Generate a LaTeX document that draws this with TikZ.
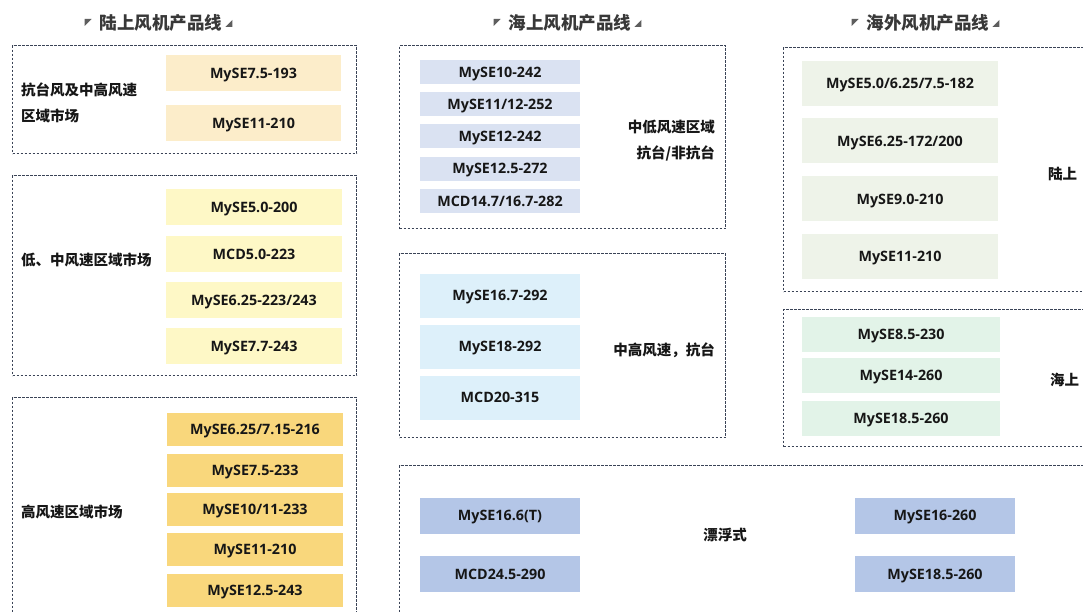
\documentclass[tikz,border=0pt]{standalone}
\usepackage{fontspec}
\setmainfont{Open Sans}
\newfontfamily\cjk{Noto Sans CJK SC}
\usetikzlibrary{calc}
\definecolor{framec}{HTML}{3A4356}
\definecolor{txt}{HTML}{161616}
\definecolor{hdrc}{HTML}{383838}
\definecolor{tric}{HTML}{5E5E5E}
\definecolor{cLa}{HTML}{FCEDCA}
\definecolor{cLb}{HTML}{FEF8C6}
\definecolor{cLc}{HTML}{F9D77C}
\definecolor{cMa}{HTML}{DAE2F2}
\definecolor{cMb}{HTML}{DDF0FA}
\definecolor{cMc}{HTML}{B4C6E7}
\definecolor{cRa}{HTML}{EEF3E9}
\definecolor{cRb}{HTML}{E2F3E8}
\begin{document}
\begin{tikzpicture}[x=1pt,y=-1pt,
  frame/.style={draw=framec, line width=1.3pt, dash pattern=on 2.6pt off 1.4pt, inner sep=0pt, anchor=north west},
  tile/.style={inner sep=0pt, text=txt, text height=10.5pt, text depth=0pt, font=\fontsize{14.3}{16}\selectfont\bfseries},
  tileLa/.style={tile, fill=cLa, minimum width=175, minimum height=36},
  tileLb/.style={tile, fill=cLb, minimum width=176, minimum height=36},
  tileLc/.style={tile, fill=cLc, minimum width=176, minimum height=33},
  tileMa/.style={tile, fill=cMa, minimum width=160, minimum height=24},
  tileMb/.style={tile, fill=cMb, minimum width=160, minimum height=44},
  tileMc/.style={tile, fill=cMc, minimum width=160, minimum height=36},
  tileRa/.style={tile, fill=cRa, minimum width=196, minimum height=45},
  tileRb/.style={tile, fill=cRb, minimum width=198, minimum height=35},
  lbl/.style={inner sep=0pt, text=txt, font=\cjk\fontsize{14.5}{26}\selectfont\bfseries},
  hdr/.style={inner sep=0pt, text=hdrc, font=\cjk\fontsize{17.5}{20}\selectfont\bfseries},
  tri/.style={fill=tric}]
\useasboundingbox (0,0) rectangle (1083,612);
\clip (0,0) rectangle (1083,612);
\fill[white] (0,0) rectangle (1083,612);

% headers
\node[hdr] (h1) at (161,23) {陆上风机产品线};
\node[hdr] (h2) at (570,23) {海上风机产品线};
\node[hdr] (h3) at (928,23) {海外风机产品线};
\foreach \h in {h1,h2,h3}{
  \fill[tri] ($(\h.west)+(-15,-4)$) -- ++(7,0) -- ++(-7,7) -- cycle;
  \fill[tri] ($(\h.east)+(3,4)$) -- ++(7,0) -- ++(0,-7) -- cycle;
}

% frames
\node[frame, minimum width=344, minimum height=108] (fL1) at (12,45) {};
\node[frame, minimum width=344, minimum height=200] (fL2) at (12,175) {};
\node[frame, minimum width=344, minimum height=240] (fL3) at (12,397) {};
\node[frame, minimum width=326, minimum height=183] (fM1) at (399,45) {};
\node[frame, minimum width=326, minimum height=184] (fM2) at (399,253) {};
\node[frame, minimum width=720, minimum height=180] (fM3) at (399,465) {};
\node[frame, minimum width=330, minimum height=244] (fR1) at (783,47) {};
\node[frame, minimum width=330, minimum height=137] (fR2) at (783,309) {};

% left column
\node[tileLa] (la1) at (253.5,73) {MySE7.5-193};
\node[tileLa] (la2) at (253.5,123.5) {MySE11-210};
\node[lbl, anchor=west, align=left] (lla) at (21,102.5) {抗台风及中高风速\\区域市场};

\node[tileLb] (lb1) at (254,207.5) {MySE5.0-200};
\node[tileLb] (lb2) at (254,254) {MCD5.0-223};
\node[tileLb] (lb3) at (254,300) {MySE6.25-223/243};
\node[tileLb] (lb4) at (254,346) {MySE7.7-243};
\node[lbl, anchor=west] (llb) at (21,260) {低、中风速区域市场};

\node[tileLc] (lc1) at (255,429.5) {MySE6.25/7.15-216};
\node[tileLc] (lc2) at (255,470) {MySE7.5-233};
\node[tileLc] (lc3) at (255,509.5) {MySE10/11-233};
\node[tileLc] (lc4) at (255,549.5) {MySE11-210};
\node[tileLc] (lc5) at (255,590.5) {MySE12.5-243};
\node[lbl, anchor=west] (llc) at (21,512) {高风速区域市场};

% middle column
\node[tileMa] (ma1) at (500,72) {MySE10-242};
\node[tileMa] (ma2) at (500,104.25) {MySE11/12-252};
\node[tileMa] (ma3) at (500,136.5) {MySE12-242};
\node[tileMa] (ma4) at (500,168.75) {MySE12.5-272};
\node[tileMa] (ma5) at (500,201) {MCD14.7/16.7-282};
\node[lbl, anchor=east, align=right] (lma) at (715,141) {中低风速区域\\抗台/非抗台};

\node[tileMb] (mb1) at (500,295.5) {MySE16.7-292};
\node[tileMb] (mb2) at (500,346.5) {MySE18-292};
\node[tileMb] (mb3) at (500,397.5) {MCD20-315};
\node[lbl, anchor=east] (lmb) at (715,350) {中高风速，抗台};

\node[tileMc] (mc1) at (500,515.5) {MySE16.6(T)};
\node[tileMc] (mc2) at (500,574) {MCD24.5-290};
\node[tileMc] (mc3) at (935,515.5) {MySE16-260};
\node[tileMc] (mc4) at (935,574) {MySE18.5-260};
\node[lbl] (lmc) at (725,535) {漂浮式};

% right column
\node[tileRa] (ra1) at (900,83.5) {MySE5.0/6.25/7.5-182};
\node[tileRa] (ra2) at (900,141) {MySE6.25-172/200};
\node[tileRa] (ra3) at (900,199) {MySE9.0-210};
\node[tileRa] (ra4) at (900,256.5) {MySE11-210};
\node[lbl, anchor=west] (lra) at (1048,174) {陆上};

\node[tileRb] (rb1) at (901,334.5) {MySE8.5-230};
\node[tileRb] (rb2) at (901,375.5) {MySE14-260};
\node[tileRb] (rb3) at (901,418.5) {MySE18.5-260};
\node[lbl, anchor=west] (lrb) at (1050,380) {海上};
\end{tikzpicture}
\end{document}
